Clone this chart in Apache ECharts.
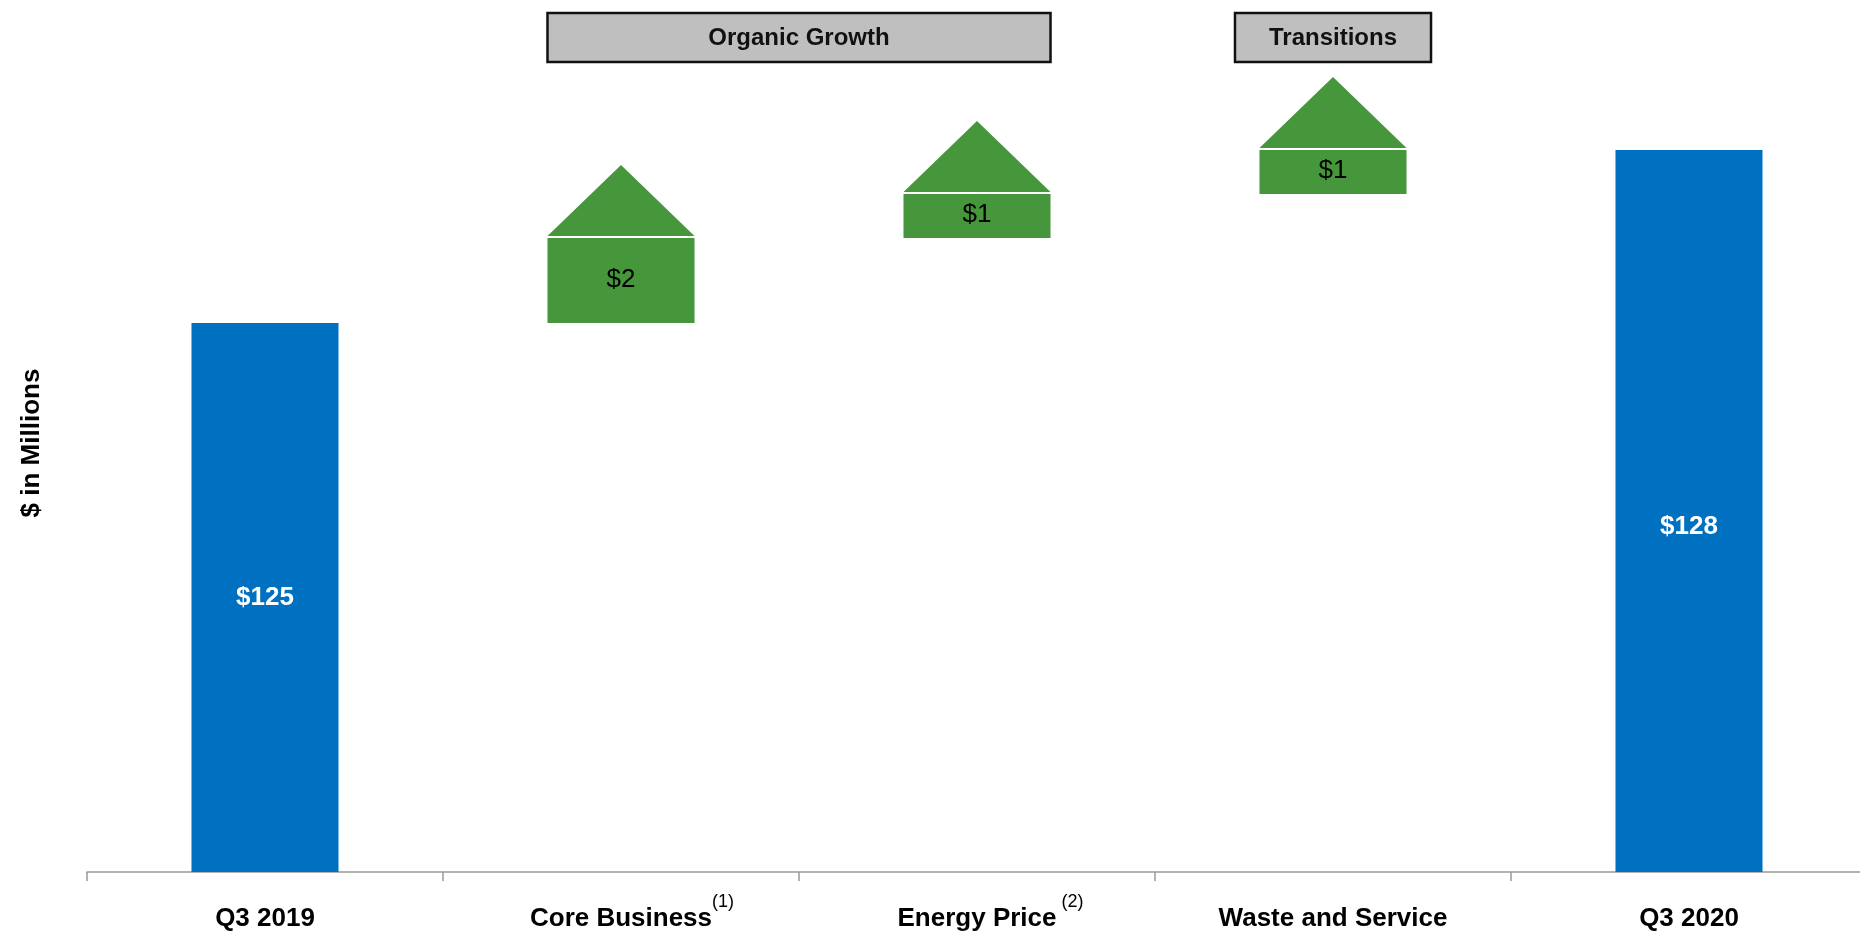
<!DOCTYPE html>
<html><head><meta charset="utf-8">
<script src="https://cdn.jsdelivr.net/npm/echarts@6/dist/echarts.min.js"></script>
<style>html,body{margin:0;padding:0;background:#fff}#c{width:1860px;height:933px}</style>
</head><body><div id="c"></div>
<script>
// ---- data ----
const categories = ['Q3 2019', 'Core Business', 'Energy Price', 'Waste and Service', 'Q3 2020'];
const footnotes  = ['', '(1)', ' (2)', '', ''];
const totals     = [125, null, null, null, 128.15];
const changes    = [null, 1.55, 0.8, 0.8, null];
const groupNames = ['Organic Growth', 'Transitions'];
const groupFrom  = [1, 3];
const groupTo    = [2, 3];
const yAxisTitle = '$ in Millions';
const yMin = 115, yMax = 130;

// ---- styles ----
const FONT = '"Liberation Sans", Arial, sans-serif';
const BLUE = '#0070C0', GREEN = '#46963C';
const BAR_FRAC = 0.413;

const ctx = document.createElement('canvas').getContext('2d');
function measure(t, font){ ctx.font = font; return ctx.measureText(t).width; }

// waterfall steps from the values
let run = totals[0];
const stepData = [];
changes.forEach((d, i) => { if (d != null) { stepData.push([i, run, run + d, d]); run += d; } });
const totalData = totals.map((v, i) => v == null ? null :
  (i === totals.length - 1 ? { value: v, label: { offset: [0, 16] } } : v));
const headerData = groupFrom.map((f, i) => [f, groupTo[i]]);

function renderStep(params, api) {
  const i = api.value(0), lo = api.value(1), hi = api.value(2), d = api.value(3);
  const w = api.size([1, 0])[0] * BAR_FRAC;
  const pLo = api.coord([i, lo]), pHi = api.coord([i, hi]);
  const x0 = pLo[0] - w / 2;
  const baseY = pHi[1] - 2, triH = 71;
  return { type: 'group', children: [
    { type: 'rect', shape: { x: x0, y: pHi[1], width: w, height: pLo[1] - pHi[1] }, style: { fill: GREEN } },
    { type: 'polygon', shape: { points: [[x0, baseY], [x0 + w, baseY], [pLo[0], baseY - triH]] }, style: { fill: GREEN } },
    { type: 'text', x: pLo[0], y: (pLo[1] + pHi[1]) / 2 - 1,
      style: { text: '$' + Math.round(d), fill: '#000', font: '26px ' + FONT, align: 'center', verticalAlign: 'middle' } }
  ]};
}

function renderHeader(params, api) {
  const a = api.value(0), b = api.value(1);
  const name = groupNames[params.dataIndex];
  const w = api.size([1, 0])[0] * BAR_FRAC;
  let left = api.coord([a, yMin])[0] - w / 2, right = api.coord([b, yMin])[0] + w / 2;
  const hf = 'bold 24px ' + FONT;
  const need = measure(name, hf) + 68;
  if (right - left < need) { const c = (left + right) / 2; left = c - need / 2; right = c + need / 2; }
  return { type: 'group', children: [
    { type: 'rect', shape: { x: left, y: 13, width: right - left, height: 49 }, style: { fill: '#BFBFBF', stroke: '#111', lineWidth: 2.5 } },
    { type: 'text', x: (left + right) / 2, y: 38.5, style: { text: name, fill: '#111', font: hf, align: 'center', verticalAlign: 'middle' } }
  ]};
}

const rich = {
  main: { fontSize: 26, fontWeight: 'bold', fontFamily: FONT, color: '#000', lineHeight: 57 },
  sup: { fontSize: 18, fontFamily: FONT, color: '#000', lineHeight: 18, padding: [0, 0, 33, 0] }
};
footnotes.forEach((f, i) => {
  if (f) rich['m' + i] = Object.assign({}, rich.main, { padding: [0, 0, 0, measure(f, '18px ' + FONT)] });
});

const chart = echarts.init(document.getElementById('c'));
chart.setOption({
  animation: false,
  backgroundColor: '#fff',
  grid: { left: 87, width: 1780, top: 48.5, bottom: 61, outerBoundsMode: 'none', containLabel: false },
  xAxis: {
    type: 'category', data: categories,
    axisLine: { lineStyle: { color: '#999', width: 1.5 } },
    axisTick: { show: true, length: 9, lineStyle: { color: '#999', width: 1.5 } },
    axisLabel: {
      interval: 0, margin: 18,
      formatter: (v, idx) => footnotes[idx] ? '{m' + idx + '|' + v + '}{sup|' + footnotes[idx] + '}' : '{main|' + v + '}',
      rich: rich
    }
  },
  yAxis: { type: 'value', min: yMin, max: yMax, show: false },
  graphic: [{
    type: 'text', x: 32, y: 443, rotation: Math.PI / 2,
    style: { text: yAxisTitle, font: 'bold 26px ' + FONT, fill: '#000', align: 'center', verticalAlign: 'middle' }
  }],
  series: [
    { type: 'bar', data: totalData, barWidth: (BAR_FRAC * 100) + '%', itemStyle: { color: BLUE },
      label: { show: true, position: 'inside', color: '#fff', fontSize: 26, fontWeight: 'bold', fontFamily: FONT,
        formatter: p => '$' + Math.round(p.value) } },
    { type: 'custom', data: stepData, renderItem: renderStep, clip: false },
    { type: 'custom', data: headerData, renderItem: renderHeader, clip: false }
  ]
});
</script></body></html>
